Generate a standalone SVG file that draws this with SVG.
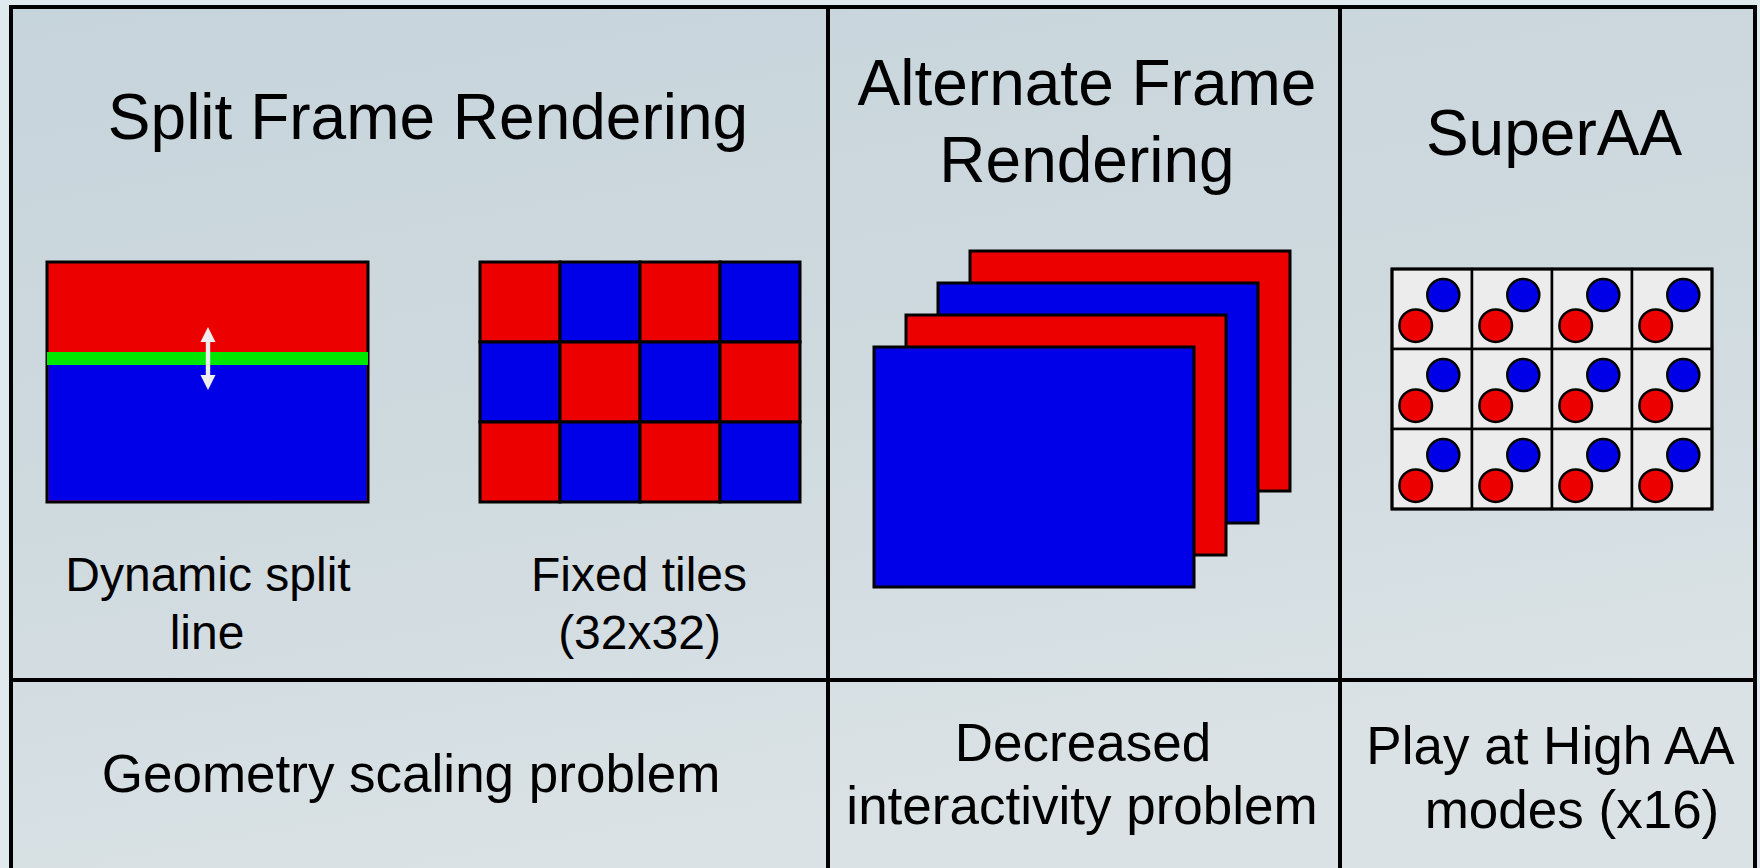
<svg xmlns="http://www.w3.org/2000/svg" width="1760" height="868" viewBox="0 0 1760 868">
  <defs>
    <linearGradient id="bg" x1="0" y1="0" x2="0.35" y2="1">
      <stop offset="0" stop-color="#c6d4db"/>
      <stop offset="0.55" stop-color="#cfdadf"/>
      <stop offset="1" stop-color="#dae2e5"/>
    </linearGradient>
    <style>
      .frame { fill: none; stroke: #000; stroke-width: 4; }
      .title { font-family: "Liberation Sans", Arial, sans-serif; font-size: 64px; fill: #000; text-anchor: middle; }
      .label { font-family: "Liberation Sans", Arial, sans-serif; font-size: 48px; fill: #000; text-anchor: middle; }
      .note { font-family: "Liberation Sans", Arial, sans-serif; font-size: 53px; fill: #000; text-anchor: middle; }
      .red { fill: #ec0000; }
      .blue { fill: #0000e8; }
      .edge { stroke: #000; stroke-width: 3; }
      .cell { fill: #ececec; stroke: #000; stroke-width: 2.5; }
      .dot { stroke: #000; stroke-width: 2.5; }
    </style>
  </defs>

  <!-- backdrop -->
  <rect x="0" y="0" width="1760" height="868" fill="#e0e9ed"/>
  <rect x="11" y="7" width="1744" height="861" fill="url(#bg)"/>

  <!-- table grid -->
  <g id="grid">
    <path class="frame" d="M11 868 V7 H1755 V868"/>
    <line class="frame" x1="828" y1="7" x2="828" y2="868"/>
    <line class="frame" x1="1340" y1="7" x2="1340" y2="868"/>
    <line class="frame" x1="11" y1="680" x2="1755" y2="680"/>
  </g>

  <!-- Split Frame Rendering column -->
  <g id="sfr">
    <text class="title" x="428" y="139">Split Frame Rendering</text>

    <g id="sfr-split">
      <rect class="red edge" x="47" y="262" width="321" height="240"/>
      <rect class="blue" x="48.5" y="358" width="318" height="142.5"/>
      <rect x="47" y="352" width="321" height="13" fill="#00e800"/>
      <polygon fill="#eeeeee" points="208,327 215.5,342 210.2,342 210.2,375 215.5,375 208,390 200.5,375 205.8,375 205.8,342 200.5,342"/>
      <text class="label" x="208" y="591">Dynamic split</text>
      <text class="label" x="207" y="649">line</text>
    </g>

    <g id="sfr-tiles">
      <rect class="red edge" x="480" y="262" width="80" height="80"/>
      <rect class="blue edge" x="560" y="262" width="80" height="80"/>
      <rect class="red edge" x="640" y="262" width="80" height="80"/>
      <rect class="blue edge" x="720" y="262" width="80" height="80"/>
      <rect class="blue edge" x="480" y="342" width="80" height="80"/>
      <rect class="red edge" x="560" y="342" width="80" height="80"/>
      <rect class="blue edge" x="640" y="342" width="80" height="80"/>
      <rect class="red edge" x="720" y="342" width="80" height="80"/>
      <rect class="red edge" x="480" y="422" width="80" height="80"/>
      <rect class="blue edge" x="560" y="422" width="80" height="80"/>
      <rect class="red edge" x="640" y="422" width="80" height="80"/>
      <rect class="blue edge" x="720" y="422" width="80" height="80"/>
      <text class="label" x="639" y="591">Fixed tiles</text>
      <text class="label" x="639.5" y="649">(32x32)</text>
    </g>

    <text class="note" x="411" y="792">Geometry scaling problem</text>
  </g>

  <!-- Alternate Frame Rendering column -->
  <g id="afr">
    <text class="title" x="1087" y="105">Alternate Frame</text>
    <text class="title" x="1087" y="182">Rendering</text>
    <rect class="red edge" x="970" y="251" width="320" height="240"/>
    <rect class="blue edge" x="938" y="283" width="320" height="240"/>
    <rect class="red edge" x="906" y="315" width="320" height="240"/>
    <rect class="blue edge" x="874" y="347" width="320" height="240"/>
    <text class="note" x="1083" y="761">Decreased</text>
    <text class="note" x="1082" y="824">interactivity problem</text>
  </g>

  <!-- SuperAA column -->
  <g id="superaa">
    <text class="title" x="1554" y="155">SuperAA</text>
    <g id="aa-samples">
      <defs>
        <g id="aa-cell">
          <rect class="cell" x="0" y="0" width="80" height="80"/>
          <circle class="blue dot" cx="51.3" cy="26" r="16"/>
          <circle class="red dot" cx="23.7" cy="56.7" r="16.3"/>
        </g>
      </defs>
      <use href="#aa-cell" x="1392" y="269"/>
      <use href="#aa-cell" x="1472" y="269"/>
      <use href="#aa-cell" x="1552" y="269"/>
      <use href="#aa-cell" x="1632" y="269"/>
      <use href="#aa-cell" x="1392" y="349"/>
      <use href="#aa-cell" x="1472" y="349"/>
      <use href="#aa-cell" x="1552" y="349"/>
      <use href="#aa-cell" x="1632" y="349"/>
      <use href="#aa-cell" x="1392" y="429"/>
      <use href="#aa-cell" x="1472" y="429"/>
      <use href="#aa-cell" x="1552" y="429"/>
      <use href="#aa-cell" x="1632" y="429"/>
      <rect x="1392" y="269" width="320" height="240" fill="none" stroke="#000" stroke-width="3"/>
    </g>
    <text class="note" x="1550.5" y="764">Play at High AA</text>
    <text class="note" x="1572" y="828">modes (x16)</text>
  </g>
</svg>
